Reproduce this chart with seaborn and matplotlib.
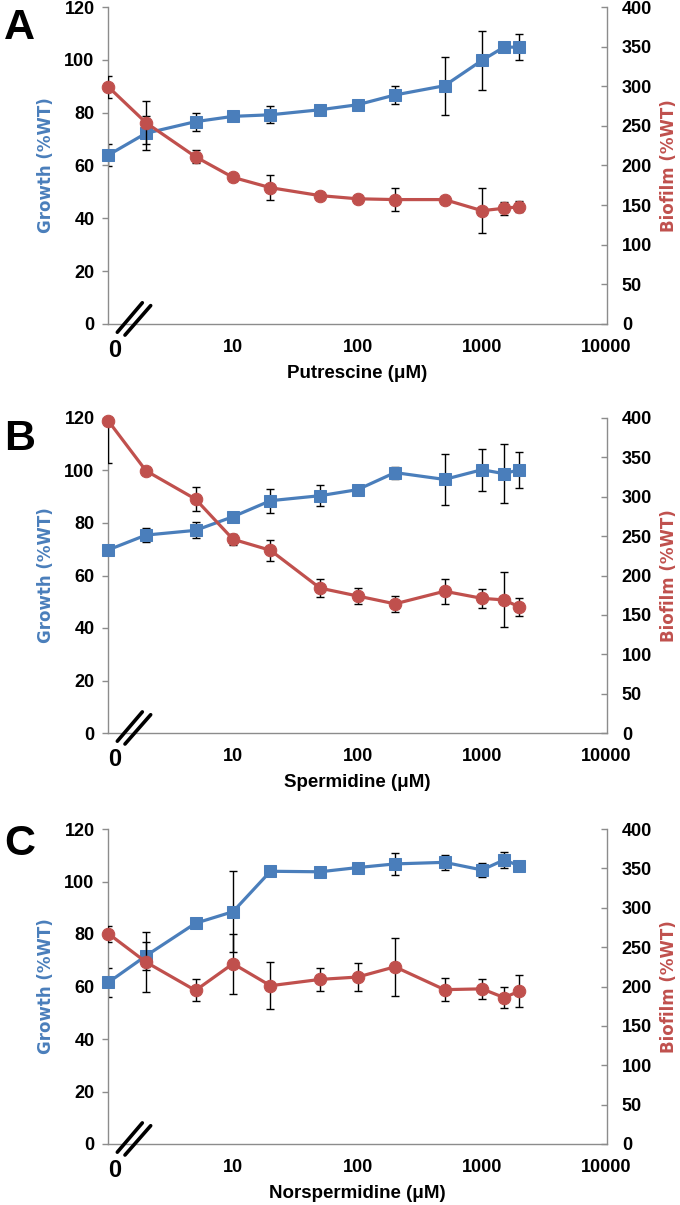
import matplotlib
matplotlib.use("Agg")
import matplotlib.pyplot as plt
import seaborn as sns
import pandas as pd

# concentrations (uM); 0 is drawn at the left edge of the log axis (axis break)
conc = [0, 2, 5, 10, 20, 50, 100, 200, 500, 1000, 1500, 2000]

# A - putrescine
put_growth = [64.0, 72.2, 76.6, 78.6, 79.2, 81.1, 83.0, 86.7, 90.2, 99.8, 104.8, 104.8]
put_growth_err = [4.2, 6.5, 3.4, 1.0, 3.2, 1.5, 1.8, 3.5, 11.0, 11.3, 1.0, 5.0]
put_biofilm = [299, 254, 211, 185, 172, 162, 158, 157, 157, 143, 146, 148]
put_biofilm_err = [14, 27, 8, 4, 16, 3, 3, 14, 2, 28, 8, 7]

# B - spermidine
spd_growth = [69.8, 75.4, 77.2, 82.4, 88.5, 90.4, 92.7, 99.2, 96.6, 100.3, 98.8, 100.3]
spd_growth_err = [1.0, 2.8, 3.1, 1.2, 4.5, 4.1, 1.0, 2.3, 9.8, 8.0, 11.2, 6.9]
spd_biofilm = [396, 333, 297, 246, 232, 184, 174, 164, 180, 171, 169, 160]
spd_biofilm_err = [53, 2, 15, 7, 13, 11, 10, 10, 16, 12, 35, 12]

# C - norspermidine
nspd_growth = [61.6, 71.7, 84.1, 88.5, 103.9, 103.7, 105.3, 106.7, 107.3, 104.4, 108.2, 106.0]
nspd_growth_err = [5.6, 5.4, 1.0, 15.5, 1.5, 1.0, 1.0, 4.3, 2.9, 2.8, 3.2, 1.5]
nspd_biofilm = [267, 231, 195, 229, 201, 209, 212, 225, 196, 197, 186, 194]
nspd_biofilm_err = [10, 38, 14, 38, 30, 15, 18, 37, 15, 13, 13, 20]

panel_letters = ["A", "B", "C"]
compounds = ["Putrescine", "Spermidine", "Norspermidine"]
growth_sets = [(put_growth, put_growth_err), (spd_growth, spd_growth_err), (nspd_growth, nspd_growth_err)]
biofilm_sets = [(put_biofilm, put_biofilm_err), (spd_biofilm, spd_biofilm_err), (nspd_biofilm, nspd_biofilm_err)]

BLUE = "#4a7ebb"
RED = "#c0504d"
GRAY = "#8c8c8c"

sns.set_style("white")
plt.rcParams['font.family'] = ['Liberation Sans', 'DejaVu Sans']
plt.rcParams['text.color'] = 'black'

fig = plt.figure(figsize=(6.8, 12.05), dpi=100)

# axes boxes in pixels (top, bottom) of the reference
boxes = [(7, 324), (418, 733), (829, 1144)]
letter_base = [39, 450, 855]
W, H = 680, 1205
left, right = 108.5, 606.5

x_plot = [c if c > 0 else 1 for c in conc]

for i in range(3):
    top, bot = boxes[i]
    ax = fig.add_axes([left / W, 1 - bot / H, (right - left) / W, (bot - top) / H])
    ax2 = ax.twinx()

    g, gerr = growth_sets[i]
    b, berr = biofilm_sets[i]
    df = pd.DataFrame({"conc": x_plot, "growth": g, "biofilm": b})

    # error bars sit under the markers
    ax.errorbar(x_plot, g, yerr=gerr, fmt="none", ecolor="black",
                elinewidth=1.0, capsize=3, capthick=1.0, zorder=2)
    sns.lineplot(data=df, x="conc", y="growth", ax=ax, color=BLUE, marker="s",
                 markersize=8.5, markeredgecolor=BLUE, linewidth=2.3,
                 errorbar=None, clip_on=False, zorder=3)

    ax2.errorbar(x_plot, b, yerr=berr, fmt="none", ecolor="black",
                 elinewidth=1.0, capsize=3, capthick=1.0, zorder=2)
    sns.lineplot(data=df, x="conc", y="biofilm", ax=ax2, color=RED, marker="o",
                 markersize=9, markeredgecolor=RED, linewidth=2.3,
                 errorbar=None, clip_on=False, zorder=3)

    ax.set_xscale("log")
    ax.set_xlim(1, 10000)
    ax.set_ylim(0, 120)
    ax2.set_ylim(0, 400)
    ax.set_xticks([10, 100, 1000, 10000])
    ax.set_xticklabels(["10", "100", "1000", "10000"])
    ax.minorticks_off()
    ax2.minorticks_off()
    ax.set_yticks(range(0, 121, 20))
    ax2.set_yticks(range(0, 401, 50))

    for a in (ax, ax2):
        for s in a.spines.values():
            s.set_visible(False)
        a.patch.set_visible(False)
    for s in ("left", "bottom"):
        ax.spines[s].set_visible(True)
        ax.spines[s].set_color(GRAY)
        ax.spines[s].set_linewidth(1.0)
    ax2.spines["right"].set_visible(True)
    ax2.spines["right"].set_color(GRAY)
    ax2.spines["right"].set_linewidth(1.0)

    ax.tick_params(axis="x", direction="out", length=4, width=1, color=GRAY,
                   labelcolor="black", pad=7, labelsize=13)
    ax.tick_params(axis="y", direction="out", length=4, width=1, color=GRAY,
                   labelcolor="black", pad=6, labelsize=13)
    ax2.tick_params(axis="y", direction="in", length=4, width=1, color=GRAY,
                    labelcolor="black", pad=11, labelsize=13)
    for lab in ax.get_xticklabels() + ax.get_yticklabels() + ax2.get_yticklabels():
        lab.set_fontweight("bold")

    ax.set_xlabel(compounds[i] + " (\u03bcM)", fontsize=13.5, fontweight="bold",
                  color="black")
    ax.xaxis.set_label_coords(0.5, -0.13)
    ax.set_ylabel("Growth (%WT)", fontsize=12, color=BLUE, family="DejaVu Sans",
                  fontweight="bold")
    ax.yaxis.set_label_coords(-0.108, 0.5)
    ax2.set_ylabel("Biofilm (%WT)", fontsize=12, color=RED, family="DejaVu Sans",
                   fontweight="bold")
    ax2.yaxis.set_label_coords(1.108, 0.5)

    # axis break and the "0" concentration label
    ax.plot([0.0177, 0.0679], [-0.026, 0.067], color="black", lw=2.6,
            transform=ax.transAxes, clip_on=False, zorder=5)
    ax.plot([0.0331, 0.0847], [-0.035, 0.058], color="black", lw=2.6,
            transform=ax.transAxes, clip_on=False, zorder=5)
    ax.text(0.012, -0.084, "0", transform=ax.transAxes, ha="center", va="center",
            fontsize=17, fontweight="bold")

    fig.text(4 / W, 1 - letter_base[i] / H, panel_letters[i], fontsize=31,
             fontweight="bold", va="baseline", ha="left")

fig.savefig("out.png", dpi=100)
